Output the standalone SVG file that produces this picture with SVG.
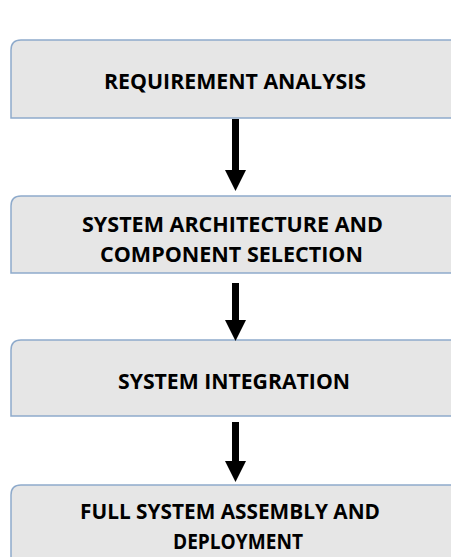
<svg xmlns="http://www.w3.org/2000/svg" width="451" height="557" viewBox="0 0 451 557">
  <style>
    .box { fill: #e6e6e6; stroke: #8eaacb; stroke-width: 1.5; }
    .label { font-family: "Open Sans", "Liberation Sans", sans-serif; font-weight: bold; font-size: 20.5px; fill: #000000; text-anchor: middle; }
    .shaft { stroke: #000000; stroke-width: 7; fill: none; }
  </style>
  <defs>
    <marker id="head" markerUnits="userSpaceOnUse" markerWidth="21" markerHeight="21" viewBox="0 0 21 21" refX="0" refY="10.5" orient="auto">
      <path d="M0,0 L21,10.5 L0,21 Z" fill="#000000"/>
    </marker>
  </defs>
  <rect width="451" height="557" fill="#ffffff"/>

  <g id="requirement-analysis">
    <path class="box" d="M11,118 V50 Q11,40 21,40 H470 V118 Z"/>
    <text class="label" x="235" y="89" textLength="262" lengthAdjust="spacingAndGlyphs">REQUIREMENT ANALYSIS</text>
  </g>

  <g id="architecture-selection">
    <path class="box" d="M11,273 V206 Q11,196 21,196 H470 V273 Z"/>
    <text class="label" x="232.5" y="232" textLength="301" lengthAdjust="spacingAndGlyphs">SYSTEM ARCHITECTURE AND</text>
    <text class="label" x="231.5" y="262" textLength="263" lengthAdjust="spacingAndGlyphs">COMPONENT SELECTION</text>
  </g>

  <g id="system-integration">
    <path class="box" d="M11,416 V350 Q11,340 21,340 H470 V416 Z"/>
    <text class="label" x="234" y="389" textLength="232" lengthAdjust="spacingAndGlyphs">SYSTEM INTEGRATION</text>
  </g>

  <g id="assembly-deployment">
    <path class="box" d="M11,570 V495 Q11,485 21,485 H470 V570 Z"/>
    <text class="label" x="230" y="519" textLength="300" lengthAdjust="spacingAndGlyphs">FULL SYSTEM ASSEMBLY AND</text>
    <text class="label" x="238" y="549" textLength="130" lengthAdjust="spacingAndGlyphs">DEPLOYMENT</text>
  </g>

  <g id="connectors">
    <line class="shaft" x1="235.5" y1="119" x2="235.5" y2="170" marker-end="url(#head)"/>
    <line class="shaft" x1="235.5" y1="283" x2="235.5" y2="320" marker-end="url(#head)"/>
    <line class="shaft" x1="235.5" y1="422" x2="235.5" y2="461" marker-end="url(#head)"/>
  </g>
</svg>
